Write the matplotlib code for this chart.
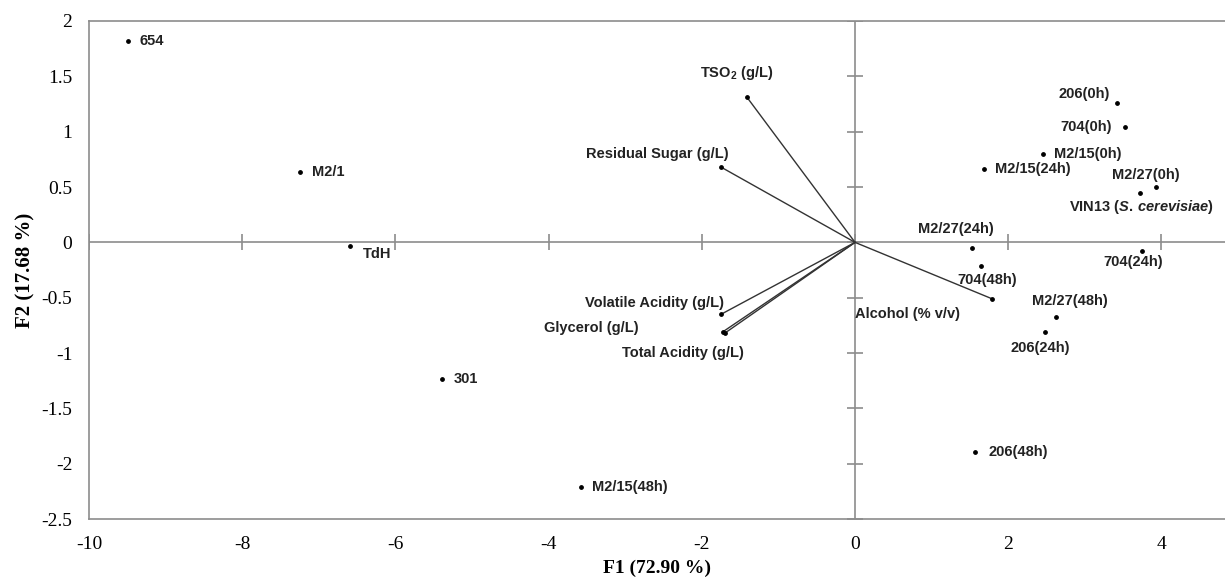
import matplotlib
matplotlib.use("Agg")
import matplotlib.pyplot as plt

# PCA scores (observations)
obs_names = ["654", "M2/1", "TdH", "301", "M2/15(48h)", "206(0h)", "704(0h)",
             "M2/15(0h)", "M2/15(24h)", "M2/27(0h)",
             r"VIN13 ($\mathit{S.\,cerevisiae}$)", "M2/27(24h)", "704(48h)",
             "704(24h)", "M2/27(48h)", "206(24h)", "206(48h)"]
obs_f1 = [-9.49, -7.25, -6.59, -5.39, -3.58, 3.42, 3.52, 2.45, 1.69, 3.93,
          3.72, 1.53, 1.65, 3.75, 2.62, 2.48, 1.57]
obs_f2 = [1.82, 0.64, -0.03, -1.23, -2.21, 1.26, 1.045, 0.80, 0.66, 0.50,
          0.45, -0.05, -0.21, -0.08, -0.67, -0.81, -1.89]

# loadings (variables)
var_names = ["TSO$_2$ (g/L)", "Residual Sugar (g/L)", "Volatile Acidity (g/L)",
             "Glycerol (g/L)", "Total Acidity (g/L)", "Alcohol (% v/v)"]
var_f1 = [-1.41, -1.75, -1.75, -1.73, -1.70, 1.79]
var_f2 = [1.31, 0.68, -0.65, -0.81, -0.82, -0.51]

x_ticks = [-10, -8, -6, -4, -2, 0, 2, 4]
y_ticks = [-2.5, -2, -1.5, -1, -0.5, 0, 0.5, 1, 1.5, 2]

# label offsets in pixels and alignment
obs_off = [(11, 0, "left"), (12, 0, "left"), (13, -8, "left"), (12, 0, "left"),
           (11, 0, "left"), (-7, 9, "right"), (-13, 0, "right"), (11, 0, "left"),
           (11, 0, "left"), (-10, 12, "center"), (2, -14, "center"),
           (-16, 19, "center"), (6, -14, "center"), (-9, -11, "center"),
           (14, 16, "center"), (-5, -16, "center"), (13, 0, "left")]
var_off = [(-10, 24, "center"), (8, 13, "right"), (3, 11, "right"),
           (-84, 4, "right"), (19, -20, "right"), (-137, -15, "left")]

plt.rcParams["axes.unicode_minus"] = False
plt.rcParams["mathtext.fontset"] = "custom"
plt.rcParams["mathtext.rm"] = "Liberation Sans:bold"
plt.rcParams["mathtext.bf"] = "Liberation Sans:bold"
plt.rcParams["mathtext.it"] = "Liberation Sans:italic:bold"

fig = plt.figure(figsize=(12.25, 5.82), dpi=100)
ax = fig.add_axes([0.0727, 0.108, 0.9273, 0.856])
grey = "#8c8c8c"
txt = "#222222"

ax.set_xlim(-10, 4.83)
ax.set_ylim(-2.5, 2)
for s in ax.spines.values():
    s.set_color(grey)
    s.set_linewidth(1.2)
ax.spines["right"].set_visible(False)

ax.axhline(0, color=grey, lw=1.2, zorder=1)
ax.axvline(0, color=grey, lw=1.2, zorder=1)
ax.plot(x_ticks, [0] * len(x_ticks), ls="none", marker="|", ms=11, mew=1.2, color=grey, zorder=1)
ax.plot([0] * len(y_ticks), y_ticks, ls="none", marker="_", ms=11, mew=1.2, color=grey, zorder=1)

ax.set_xticks(x_ticks)
ax.set_yticks(y_ticks)
ax.set_yticklabels([f"{v:g}" for v in y_ticks])
ax.tick_params(length=0, labelsize=14, pad=12)
for lab in ax.get_xticklabels() + ax.get_yticklabels():
    lab.set_family("Liberation Serif")

ax.set_xlabel("F1 (72.90 %)", family="Liberation Serif", weight="bold", fontsize=14, labelpad=5)
ax.set_ylabel("F2 (17.68 %)", family="Liberation Serif", weight="bold", fontsize=15, labelpad=4)

for x, y in zip(var_f1, var_f2):
    ax.plot([0, x], [0, y], color="#333333", lw=1.0, zorder=2)
ax.scatter(var_f1, var_f2, s=6, color="black", zorder=3)
ax.scatter(obs_f1, obs_f2, s=6, color="black", zorder=3)

for name, x, y, (dx, dy, ha) in zip(obs_names, obs_f1, obs_f2, obs_off):
    ax.annotate(name, (x, y), xytext=(dx, dy), textcoords="offset pixels",
                ha=ha, va="center", fontsize=10.5, weight="bold",
                family="Liberation Sans", color=txt)
for name, x, y, (dx, dy, ha) in zip(var_names, var_f1, var_f2, var_off):
    ax.annotate(name, (x, y), xytext=(dx, dy), textcoords="offset pixels",
                ha=ha, va="center", fontsize=10.5, weight="bold",
                family="Liberation Sans", color=txt)

fig.savefig("out.png", dpi=100)
